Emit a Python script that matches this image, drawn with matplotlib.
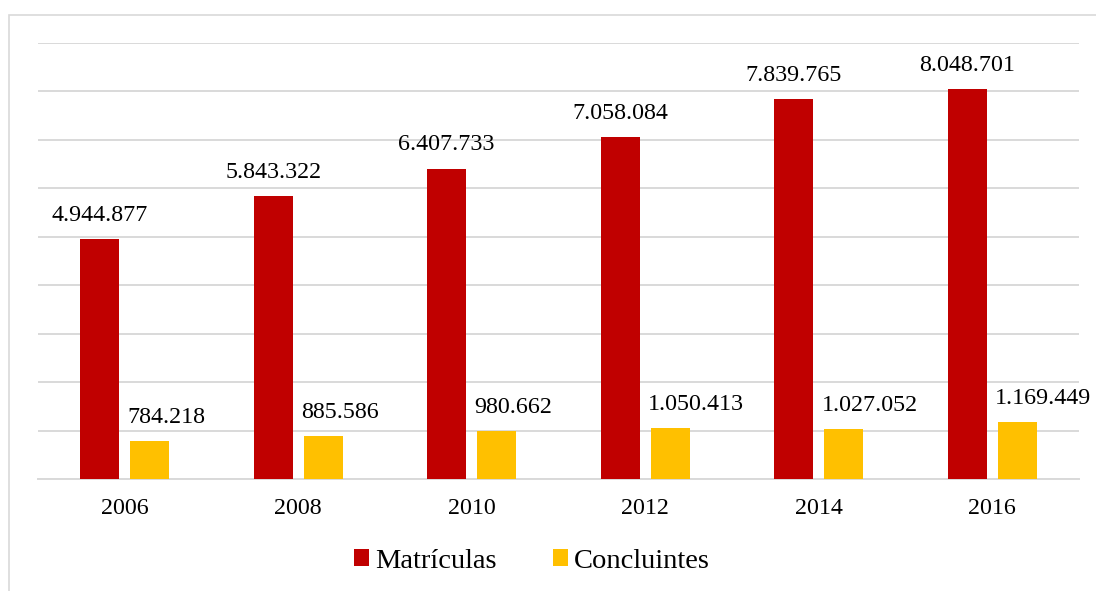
import matplotlib
matplotlib.use("Agg")
import matplotlib.pyplot as plt
from matplotlib.patches import Patch, Rectangle
import numpy as np

plt.rcParams['font.family'] = ['Liberation Serif', 'DejaVu Serif']

years = ["2006", "2008", "2010", "2012", "2014", "2016"]
matriculas = [4944877, 5843322, 6407733, 7058084, 7839765, 8048701]
concluintes = [784218, 885586, 980662, 1050413, 1027052, 1169449]
series_names = ["Matrículas", "Concluintes"]

RED = "#C00000"
YELLOW = "#FFC000"
GRID = "#D9D9D9"

W, H = 1096, 591
fig = plt.figure(figsize=(W / 100, H / 100), dpi=100)
ax = fig.add_axes([38 / W, 1 - 479 / H, (1079 - 38) / W, (479 - 43) / H])

# outer border of the chart area
fig.patches.append(Rectangle((8.5 / W, -0.1), 1.2, 1 - 15 / H + 0.1,
                             transform=fig.transFigure, fill=False,
                             edgecolor=GRID, linewidth=1.2))

x = np.arange(len(years))
bw = 0.225
off = 0.1445
ax.bar(x - off, matriculas, bw, color=RED, zorder=3)
ax.bar(x + off, concluintes, bw, color=YELLOW, zorder=3)

def fmt(v):
    return f"{v:,}".replace(",", ".")

for xi, v in zip(x, matriculas):
    ax.annotate(fmt(v), (xi - off, v), xytext=(0, 17), textcoords="offset points",
                ha="center", va="center", fontsize=17.3, color="#000000")
for xi, v in zip(x, concluintes):
    ax.annotate(fmt(v), (xi + off - bw / 2, v), xytext=(-2, 17), textcoords="offset points",
                ha="left", va="center", fontsize=17.3, color="#000000")

ax.set_xlim(-0.5, len(years) - 0.5)
ax.set_ylim(0, 9000000)
ax.set_yticks(np.arange(0, 9000001, 1000000))
ax.yaxis.grid(True, color=GRID, linewidth=1.4, zorder=0)
ax.set_axisbelow(True)
ax.set_yticklabels([])
ax.tick_params(axis="y", length=0)
ax.set_xticks(x)
ax.set_xticklabels(years, fontsize=17.3)
ax.tick_params(axis="x", length=0, pad=14)
for s in ["top", "right", "left"]:
    ax.spines[s].set_visible(False)
ax.spines["bottom"].set_color(GRID)
ax.spines["bottom"].set_linewidth(1.4)

handles = [Patch(facecolor=RED, label=series_names[0]),
           Patch(facecolor=YELLOW, label=series_names[1])]
fig.legend(handles=handles, loc="center", bbox_to_anchor=(532 / W, 1 - 561 / H),
           ncol=2, frameon=False, fontsize=20.5, handlelength=0.5, handleheight=0.5,
           handletextpad=0.22, columnspacing=2.0)

fig.savefig("out.png", dpi=100, facecolor="white")
